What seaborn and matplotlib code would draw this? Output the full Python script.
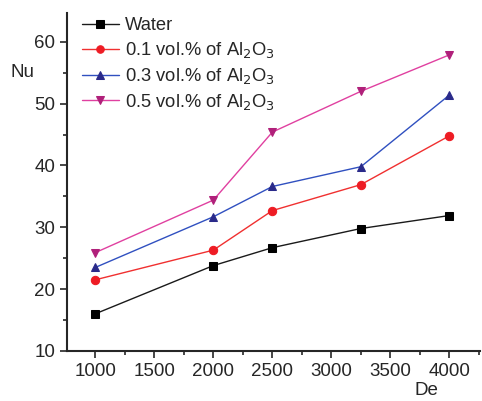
import matplotlib
matplotlib.use("Agg")
import matplotlib.pyplot as plt
import pandas as pd
import seaborn as sns
from matplotlib.ticker import MultipleLocator

sns.set_style("ticks")
plt.rcParams['font.family'] = ['Liberation Sans', 'DejaVu Sans']

de = [1000, 2000, 2500, 3250, 4000]
water = [16.0, 23.8, 26.7, 29.8, 31.9]
al_01 = [21.5, 26.3, 32.7, 36.9, 44.8]
al_03 = [23.5, 31.7, 36.6, 39.8, 51.4]
al_05 = [25.9, 34.4, 45.4, 52.0, 57.9]

labels = ["Water", "0.1 vol.% of Al$_2$O$_3$", "0.3 vol.% of Al$_2$O$_3$",
          "0.5 vol.% of Al$_2$O$_3$"]
series = [water, al_01, al_03, al_05]
line_colors = ["#1a1a1a", "#f03030", "#3050c0", "#e040a0"]
marker_colors = ["#000000", "#ee1c24", "#2a2a8a", "#b0207a"]
markers = ["s", "o", "^", "v"]

df = pd.concat([pd.DataFrame({"De": de, "Nu": s, "fluid": l})
                for s, l in zip(series, labels)])

fig = plt.figure(figsize=(4.82, 4.01), dpi=100)
ax = fig.add_axes([0.139, 0.125, 0.857, 0.843])

for lab, lc, mc, mk in zip(labels, line_colors, marker_colors, markers):
    sub = df[df.fluid == lab]
    sns.lineplot(data=sub, x="De", y="Nu", ax=ax, color=lc, lw=1.0,
                 marker=mk, markersize=6, markerfacecolor=mc,
                 markeredgecolor=mc, label=lab)

ax.set_xlim(760, 4260)
ax.set_ylim(10, 64.7)
ax.xaxis.set_major_locator(MultipleLocator(500))
ax.xaxis.set_minor_locator(MultipleLocator(250))
ax.yaxis.set_major_locator(MultipleLocator(10))
ax.yaxis.set_minor_locator(MultipleLocator(5))
ax.tick_params(which='major', direction='out', length=5, width=1.2, labelsize=13.5)
ax.tick_params(which='minor', direction='out', length=3, width=1.2)
sns.despine(ax=ax)
for sp in ["left", "bottom"]:
    ax.spines[sp].set_linewidth(1.5)

ax.set_xlabel("")
ax.set_ylabel("")
fig.text(0.022, 0.818, "Nu", fontsize=13.5, ha='left', va='center')
fig.text(0.884, 0.027, "De", fontsize=13.5, ha='center', va='center')

ax.legend(loc='upper left', bbox_to_anchor=(0.005, 1.025), frameon=False,
          fontsize=13.2, handlelength=2.0, handletextpad=0.35,
          labelspacing=0.32, borderaxespad=0.3, markerscale=0.9)

fig.savefig("out.png", dpi=100)
